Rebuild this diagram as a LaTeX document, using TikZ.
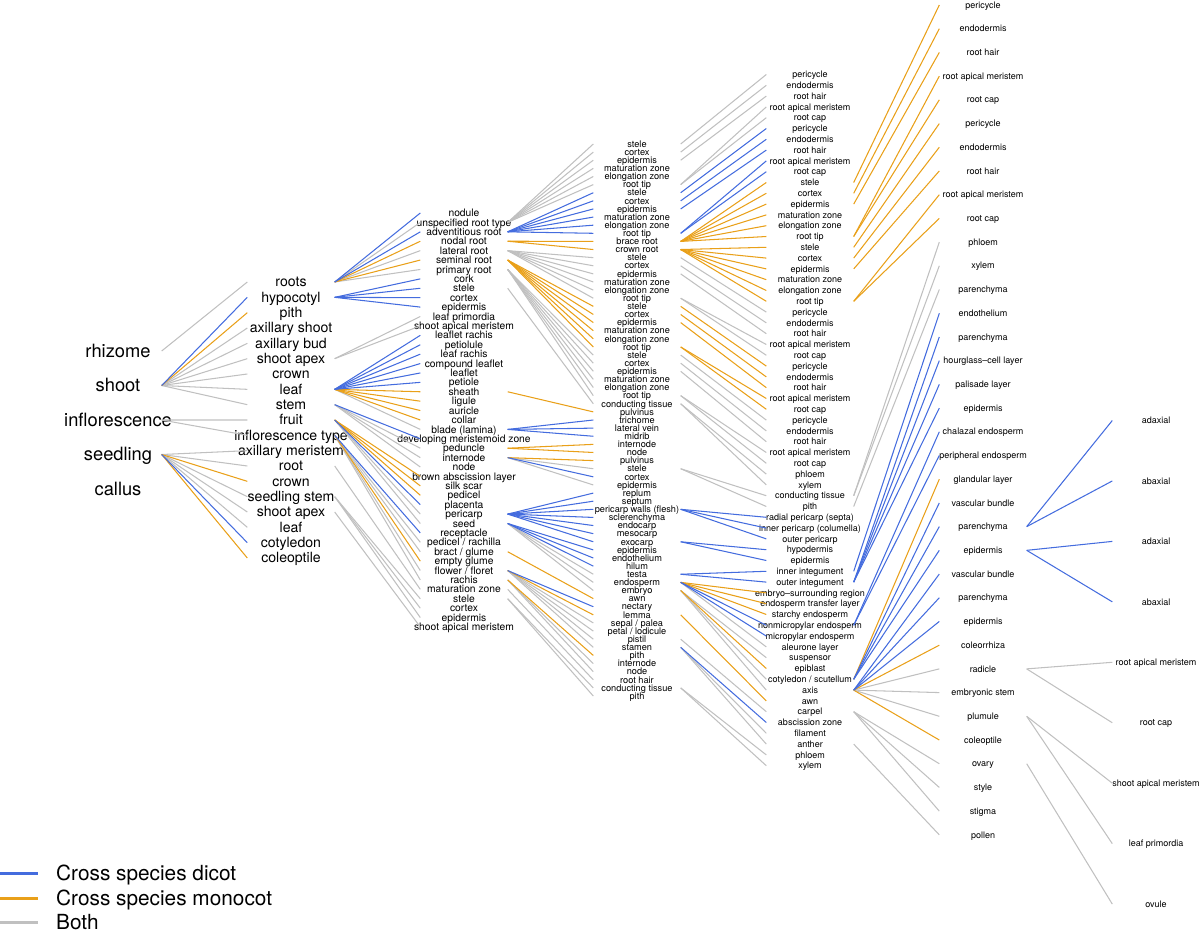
\documentclass[tikz,border=0pt]{standalone}
\usepackage{fontspec}
\setmainfont{TeX Gyre Heros}
\usepackage{tikz}
\usetikzlibrary{positioning}
\definecolor{dicotcol}{RGB}{68,108,222}
\definecolor{monocol}{RGB}{233,160,25}
\definecolor{bothcol}{RGB}{192,192,192}

\begin{document}
\begin{tikzpicture}[x=1pt,y=-1pt,
  organ/.style={inner sep=0pt,text depth=0pt,text=black},
  lvlA/.style={organ,font=\fontsize{18.3}{22}\selectfont,text height=12.8pt},
  lvlB/.style={organ,font=\fontsize{14.1}{17}\selectfont,text height=9.9pt},
  lvlC/.style={organ,font=\fontsize{10.3}{12}\selectfont,text height=7.2pt},
  lvlD/.style={organ,font=\fontsize{9.2}{11}\selectfont,text height=6.45pt},
  lvlE/.style={organ,font=\fontsize{9}{11}\selectfont,text height=6.3pt},
  link/.style={line width=1.05pt},
  dicot/.style={link,dicotcol},
  mono/.style={link,monocol},
  both/.style={link,bothcol},
  legline/.style={line width=3pt},
  legtext/.style={inner sep=0pt,text depth=0pt,text height=14.6pt,
    font=\fontsize{20.8}{24}\selectfont,anchor=west}]
  \useasboundingbox (0,0) rectangle (1200,934);
  % columns of tissues, evenly spaced, centred on y=420
  \foreach \lab [count=\i] in {rhizome,shoot,inflorescence,seedling,callus}
    \node[lvlA] (c0n\i) at (118,{351+34.5*(\i-1)}) {\makebox[87pt]{\lab}};
  \foreach \lab [count=\i] in {roots,hypocotyl,pith,axillary shoot,axillary bud,%
      shoot apex,crown,leaf,stem,fruit,inflorescence type,axillary meristem,root,%
      crown,seedling stem,shoot apex,leaf,cotyledon,coleoptile}
    \node[lvlB] (c1n\i) at (291,{282+15.333*(\i-1)}) {\makebox[87pt]{\lab}};
  \foreach \lab [count=\i] in {nodule,unspecified root type,adventitious root,%
      nodal root,lateral root,seminal root,primary root,cork,stele,cortex,epidermis,%
      leaf primordia,shoot apical meristem,leaflet rachis,petiolule,leaf rachis,%
      compound leaflet,leaflet,petiole,sheath,ligule,auricle,collar,blade (lamina),%
      developing meristemoid zone,peduncle,internode,node,brown abscission layer,%
      silk scar,pedicel,placenta,pericarp,seed,receptacle,pedicel / rachilla,%
      bract / glume,empty glume,flower / floret,rachis,maturation zone,stele,cortex,%
      epidermis,shoot apical meristem}
    \node[lvlC] (c2n\i) at (464,{213+9.409*(\i-1)}) {\makebox[87pt]{\lab}};
  \foreach \lab [count=\i] in {stele,cortex,epidermis,maturation zone,elongation zone,root tip,%
      stele,cortex,epidermis,maturation zone,elongation zone,root tip,brace root,crown root,%
      stele,cortex,epidermis,maturation zone,elongation zone,root tip,%
      stele,cortex,epidermis,maturation zone,elongation zone,root tip,%
      stele,cortex,epidermis,maturation zone,elongation zone,root tip,%
      conducting tissue,pulvinus,trichome,lateral vein,midrib,internode,node,pulvinus,%
      stele,cortex,epidermis,replum,septum,pericarp walls (flesh),sclerenchyma,endocarp,%
      mesocarp,exocarp,epidermis,endothelium,hilum,testa,endosperm,embryo,awn,nectary,%
      lemma,sepal / palea,petal / lodicule,pistil,stamen,pith,internode,node,root hair,%
      conducting tissue,pith}
    \node[lvlD] (c3n\i) at (637,{144+8.118*(\i-1)}) {\makebox[87pt]{\lab}};
  \foreach \lab [count=\i] in {pericycle,endodermis,root hair,root apical meristem,root cap,%
      pericycle,endodermis,root hair,root apical meristem,root cap,%
      stele,cortex,epidermis,maturation zone,elongation zone,root tip,%
      stele,cortex,epidermis,maturation zone,elongation zone,root tip,%
      pericycle,endodermis,root hair,root apical meristem,root cap,%
      pericycle,endodermis,root hair,root apical meristem,root cap,%
      pericycle,endodermis,root hair,root apical meristem,root cap,%
      phloem,xylem,conducting tissue,pith,radial pericarp (septa),%
      inner pericarp (columella),outer pericarp,hypodermis,epidermis,inner integument,%
      outer integument,embryo–surrounding region,endosperm transfer layer,%
      starchy endosperm,nonmicropylar endosperm,micropylar endosperm,aleurone layer,%
      suspensor,epiblast,cotyledon / scutellum,axis,awn,carpel,abscission zone,%
      filament,anther,phloem,xylem}
    \node[lvlE] (c4n\i) at (810,{74.5+10.8*(\i-1)}) {\makebox[87pt]{\lab}};
  \foreach \lab [count=\i] in {pericycle,endodermis,root hair,root apical meristem,root cap,%
      pericycle,endodermis,root hair,root apical meristem,root cap,phloem,xylem,%
      parenchyma,endothelium,parenchyma,hourglass–cell layer,palisade layer,epidermis,%
      chalazal endosperm,peripheral endosperm,glandular layer,vascular bundle,%
      parenchyma,epidermis,vascular bundle,parenchyma,epidermis,coleorrhiza,radicle,%
      embryonic stem,plumule,coleoptile,ovary,style,stigma,pollen}
    \node[lvlE] (c5n\i) at (983,{5+23.71*(\i-1)}) {\makebox[87pt]{\lab}};
  \foreach \lab [count=\i] in {adaxial,abaxial,adaxial,abaxial,root apical meristem,%
      root cap,shoot apical meristem,leaf primordia,ovule}
    \node[lvlE] (c6n\i) at (1156,{420.5+60.45*(\i-1)}) {\makebox[87pt]{\lab}};

  % both
  \foreach \p/\q/\kids in {c0n1/c1n/{1},c0n2/c1n/{4,...,9},c0n3/c1n/{10,11},
      c0n4/c1n/{12,13,15,16,17},
      c1n1/c2n/{2,5,7},c1n6/c2n/{12,13},c1n8/c2n/{24},c1n9/c2n/{26,27,28},
      c1n10/c2n/{33,34},c1n11/c2n/{36,37,39,40},c1n13/c2n/{41},c1n15/c2n/{42,43,44},
      c1n16/c2n/{45},
      c2n2/c3n/{1,...,6},c2n5/c3n/{15,...,20},c2n7/c3n/{27,...,32},c2n9/c3n/{33},
      c2n27/c3n/{41,43},c2n34/c3n/{54,55,56},c2n39/c3n/{60,...,63},c2n40/c3n/{65,66},
      c2n41/c3n/{67},c2n42/c3n/{68,69},
      c3n1/c4n/{1},c3n2/c4n/{2},c3n3/c4n/{3},c3n6/c4n/{4,5},
      c3n15/c4n/{23},c3n16/c4n/{24},c3n17/c4n/{25},c3n20/c4n/{26,27},
      c3n27/c4n/{33},c3n28/c4n/{34},c3n29/c4n/{35},c3n32/c4n/{36,37},
      c3n33/c4n/{38,39},c3n41/c4n/{40,41},c3n55/c4n/{54},c3n56/c4n/{55,57,58},
      c3n62/c4n/{60},c3n63/c4n/{62,63},c3n68/c4n/{64,65},
      c4n40/c5n/{11,12},c4n41/c5n/{13},c4n58/c5n/{29,30,31},c4n60/c5n/{33,34,35},
      c4n63/c5n/{36},
      c5n29/c6n/{5,6},c5n31/c6n/{7,8},c5n33/c6n/{9}}
    \foreach \k in \kids \draw[both] (\p.east) -- (\q\k.west);
  % cross species monocot
  \foreach \p/\q/\kids in {c0n2/c1n/{3},c0n4/c1n/{14,19},
      c1n1/c2n/{4,6},c1n8/c2n/{20,...,23},c1n10/c2n/{29,30,31},c1n11/c2n/{38},
      c2n4/c3n/{13,14},c2n6/c3n/{21,...,26},c2n20/c3n/{34},c2n26/c3n/{38,39},
      c2n27/c3n/{40},c2n37/c3n/{57},c2n39/c3n/{59},c2n40/c3n/{64},
      c3n13/c4n/{11,...,16},c3n14/c4n/{17,...,22},
      c3n21/c4n/{28},c3n22/c4n/{29},c3n23/c4n/{30},c3n26/c4n/{31,32},
      c3n55/c4n/{49,50,51},c3n56/c4n/{56},c3n59/c4n/{59},
      c4n11/c5n/{1},c4n12/c5n/{2},c4n13/c5n/{3},c4n16/c5n/{4,5},
      c4n17/c5n/{6},c4n18/c5n/{7},c4n19/c5n/{8},c4n22/c5n/{9,10},
      c4n57/c5n/{21},c4n58/c5n/{28,32}}
    \foreach \k in \kids \draw[mono] (\p.east) -- (\q\k.west);
  % cross species dicot
  \foreach \p/\q/\kids in {c0n2/c1n/{2},c0n4/c1n/{18},
      c1n1/c2n/{1,3},c1n2/c2n/{8,...,11},c1n8/c2n/{14,...,19},c1n9/c2n/{25},
      c1n10/c2n/{32},c1n11/c2n/{35},
      c2n3/c3n/{7,...,12},c2n24/c3n/{35,36,37},c2n27/c3n/{42},c2n33/c3n/{44,...,50},
      c2n34/c3n/{51,52,53},c2n39/c3n/{58},
      c3n7/c4n/{6},c3n8/c4n/{7},c3n9/c4n/{8},c3n12/c4n/{9,10},
      c3n46/c4n/{42,43,44},c3n50/c4n/{45,46},c3n54/c4n/{47,48},c3n55/c4n/{52,53},
      c3n63/c4n/{61},
      c4n47/c5n/{14},c4n48/c5n/{15,...,18},c4n52/c5n/{19,20},c4n57/c5n/{22,23,24},
      c4n58/c5n/{25,26,27},
      c5n23/c6n/{1,2},c5n24/c6n/{3,4}}
    \foreach \k in \kids \draw[dicot] (\p.east) -- (\q\k.west);

  % legend
  \coordinate (legdicot) at (38,873);
  \coordinate (legmono) at (38,898);
  \coordinate (legboth) at (38,922);
  \draw[legline,dicotcol] (0,873) -- (legdicot);
  \draw[legline,monocol] (0,898) -- (legmono);
  \draw[legline,bothcol] (0,922) -- (legboth);
  \node[legtext,right=18pt of legdicot] (legA) {Cross species dicot};
  \node[legtext,right=18pt of legmono] (legB) {Cross species monocot};
  \node[legtext,right=18pt of legboth] (legC) {Both};
\end{tikzpicture}
\end{document}
